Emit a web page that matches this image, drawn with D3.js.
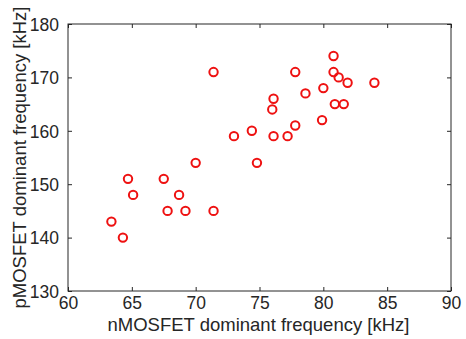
<!DOCTYPE html>
<html>
<head>
<meta charset="utf-8">
<script src="https://cdn.jsdelivr.net/npm/d3@7"></script>
<style>
  body { margin: 0; background: #fff; }
  svg text { font-family: "Liberation Sans", Arial, sans-serif; fill: #262626; }
</style>
</head>
<body>
<div id="chart"></div>
<script>
// nMOSFET vs pMOSFET dominant frequency (kHz)
const nFreq = [63.4, 64.3, 64.7, 65.1, 67.5, 67.8, 68.7, 69.2, 71.4, 71.4,
               70.0, 73.0, 74.4, 74.8, 76.0, 76.1, 76.1, 77.2, 77.8, 77.8,
               78.6, 79.9, 80.0, 80.8, 80.8, 81.2, 81.9, 80.9, 81.6, 84.0];
const pFreq = [143, 140, 151, 148, 151, 145, 148, 145, 145, 171,
               154, 159, 160, 154, 164, 166, 159, 159, 161, 171,
               167, 162, 168, 174, 171, 170, 169, 165, 165, 169];
const xTicks = [60, 65, 70, 75, 80, 85, 90];
const yTicks = [130, 140, 150, 160, 170, 180];

const W = 466, H = 339;
const m = { left: 68, right: 15, top: 24, bottom: 48 };
const iw = W - m.left - m.right, ih = H - m.top - m.bottom;

const svg = d3.select("#chart").append("svg")
  .attr("width", W).attr("height", H);
const g = svg.append("g").attr("transform", `translate(${m.left},${m.top})`);

const x = d3.scaleLinear().domain([60, 90]).range([0, iw]);
const y = d3.scaleLinear().domain([130, 180]).range([ih, 0]);

const tickLen = 4;
const styleAxis = (sel) => {
  sel.select(".domain").remove();
  sel.selectAll("line").attr("stroke", "#262626");
  sel.selectAll("text").attr("font-size", 17.5);
};

// bottom / left with labels, ticks pointing inward
g.append("g").attr("transform", `translate(0,${ih})`)
  .call(d3.axisBottom(x).tickValues(xTicks).tickSizeInner(-tickLen).tickSizeOuter(0).tickPadding(6))
  .call(styleAxis);
g.append("g")
  .call(d3.axisLeft(y).tickValues(yTicks).tickSizeInner(-tickLen).tickSizeOuter(0).tickPadding(9))
  .call(styleAxis)
  .selectAll("text").attr("dy", "0.36em");
// top / right ticks only
g.append("g")
  .call(d3.axisTop(x).tickValues(xTicks).tickSizeInner(-tickLen).tickSizeOuter(0).tickFormat(""))
  .call(styleAxis);
g.append("g").attr("transform", `translate(${iw},0)`)
  .call(d3.axisRight(y).tickValues(yTicks).tickSizeInner(-tickLen).tickSizeOuter(0).tickFormat(""))
  .call(styleAxis);

g.append("rect")
  .attr("width", iw).attr("height", ih)
  .attr("fill", "none").attr("stroke", "#262626").attr("stroke-width", 1);

g.selectAll("circle.pt")
  .data(nFreq.map((v, i) => [v, pFreq[i]]))
  .join("circle")
  .attr("class", "pt")
  .attr("cx", d => x(d[0]))
  .attr("cy", d => y(d[1]))
  .attr("r", 4.2)
  .attr("fill", "none")
  .attr("stroke", "#ee1111")
  .attr("stroke-width", 2);

svg.append("text")
  .attr("x", m.left + iw / 2 - 1).attr("y", 331)
  .attr("text-anchor", "middle").attr("font-size", 18.5)
  .text("nMOSFET dominant frequency [kHz]");

svg.append("text")
  .attr("transform", `translate(26,${m.top + ih / 2}) rotate(-90)`)
  .attr("text-anchor", "middle").attr("font-size", 18.5)
  .text("pMOSFET dominant frequency [kHz]");
</script>
</body>
</html>
